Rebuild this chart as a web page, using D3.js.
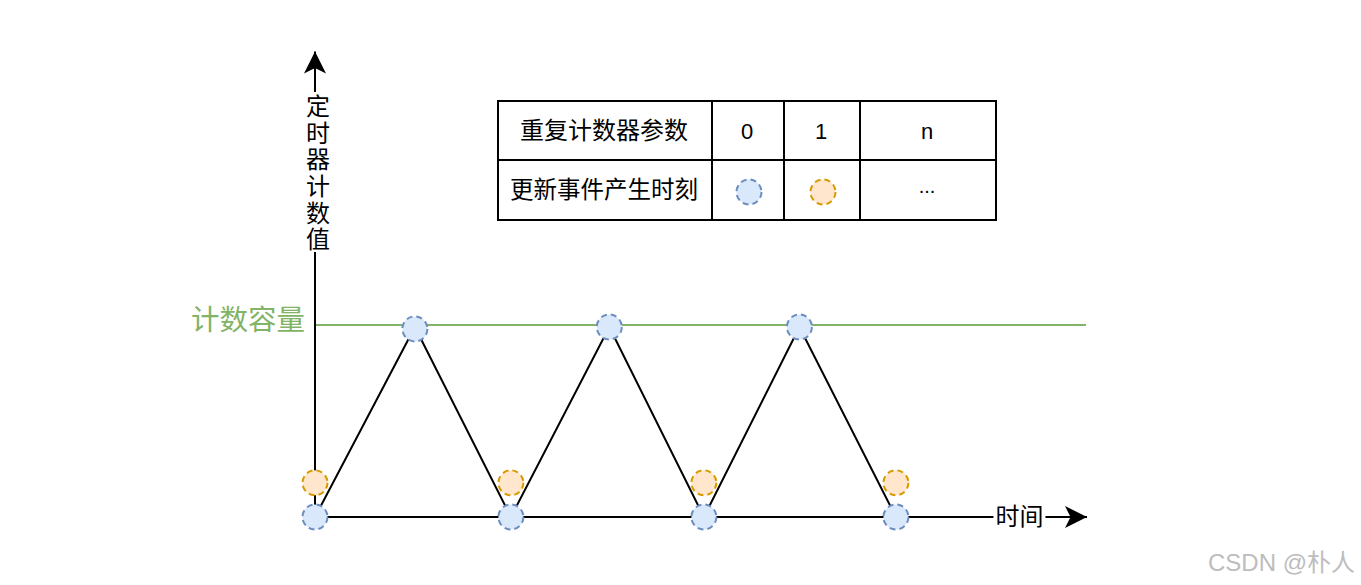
<!DOCTYPE html>
<html><head><meta charset="utf-8">
<script src="https://cdn.jsdelivr.net/npm/d3@7"></script>
<style>
html,body{margin:0;padding:0;background:#fff;}
svg{display:block;font-family:"Noto Sans CJK SC","Noto Sans",sans-serif;}
</style></head>
<body><svg id="c" width="1361" height="585"></svg>
<script>
// ---- data ----
const counterTimes = [0, 1.035, 2.03, 3.05, 4.03, 5.02, 6.02];
const counterValues = [0, 100, 0, 100, 0, 100, 0];
const blueTimes = [0, 1.035, 2.03, 3.05, 4.03, 5.02, 6.02];
const blueValues = [0, 99, 0, 100, 0, 100, 0];
const orangeTimes = [0, 2.03, 4.03, 6.02];
const orangeValues = [18, 18, 18, 18];
const capacity = 101;
const yLabel = "定时器计数值";
const xLabel = "时间";
const capacityLabel = "计数容量";
const tableHeader = ["重复计数器参数", "0", "1", "n"];
const tableRow2 = ["更新事件产生时刻", "blue", "orange", "..."];
const watermark = "CSDN @朴人";

const svg = d3.select("#c");
const x = d3.scaleLinear().domain([0, 8]).range([315, 1087]);
const y = d3.scaleLinear().domain([0, 100]).range([517, 327]);
const yTop = 245;

const blueFill = "#dae8fc", blueStroke = "#6c8ebf";
const orFill = "#ffe6cc", orStroke = "#d79b00";
const green = "#82b366";

// arrow marker
const defs = svg.append("defs");
defs.append("marker").attr("id","arr").attr("viewBox","0 0 10 10")
  .attr("refX",10).attr("refY",5).attr("markerWidth",22).attr("markerHeight",22)
  .attr("markerUnits","userSpaceOnUse").attr("orient","auto")
  .append("path").attr("d","M0,0 L10,5 L0,10 L2.5,5 Z").attr("fill","#000");

// capacity line
svg.append("line").attr("x1",x(0)).attr("x2",x(8)-1).attr("y1",y(capacity)).attr("y2",y(capacity))
  .attr("stroke",green).attr("stroke-width",2);
svg.append("text").attr("x",x(0)-10).attr("y",y(capacity)+5).attr("text-anchor","end")
  .attr("font-size",28.5).attr("fill",green).text(capacityLabel);

// axes
svg.append("line").attr("x1",x(0)).attr("y1",y(0)).attr("x2",x(8)).attr("y2",y(0))
  .attr("stroke","#000").attr("stroke-width",2).attr("marker-end","url(#arr)");
svg.append("line").attr("x1",x(0)).attr("y1",y(0)).attr("x2",x(0)).attr("y2",y(yTop))
  .attr("stroke","#000").attr("stroke-width",2).attr("marker-end","url(#arr)");

// x label
const xl = svg.append("g");
xl.append("rect").attr("x",x(7.3)-26).attr("y",y(0)-13).attr("width",52).attr("height",26).attr("fill","#fff");
xl.append("text").attr("x",x(7.3)).attr("y",y(0)+8).attr("text-anchor","middle")
  .attr("font-size",24).attr("fill","#000").text(xLabel);

// y label vertical (single text, vertical writing mode)
const yl = svg.append("g");
yl.append("rect").attr("x",x(0)-13).attr("y",92).attr("width",28).attr("height",160).attr("fill","#fff");
yl.append("text").attr("x",x(0)+3).attr("y",94)
  .style("writing-mode","vertical-rl").style("text-orientation","upright")
  .attr("font-size",24).attr("letter-spacing",2.6).attr("fill","#000").text(yLabel);

// counter line
const line = d3.line().x(d=>x(d[0])).y(d=>y(d[1]));
svg.append("path").datum(counterTimes.map((t,i)=>[t,counterValues[i]]))
  .attr("d",line).attr("fill","none").attr("stroke","#000").attr("stroke-width",2);

// markers
function marker(g, cx, cy, fill, stroke){
  g.append("circle").attr("cx",cx).attr("cy",cy).attr("r",12.5)
    .attr("fill",fill).attr("stroke",stroke).attr("stroke-width",2)
    .attr("stroke-dasharray","6,4");
}
const mk = svg.append("g");
orangeTimes.forEach((t,i)=>marker(mk,x(t),y(orangeValues[i]),orFill,orStroke));
blueTimes.forEach((t,i)=>marker(mk,x(t),y(blueValues[i]),blueFill,blueStroke));

// table
const colX = [498, 712, 784, 860, 996];
const rowY = [101, 160, 220];
const tb = svg.append("g");
tb.append("rect").attr("x",colX[0]).attr("y",rowY[0]).attr("width",colX[4]-colX[0]).attr("height",rowY[2]-rowY[0])
  .attr("fill","#fff").attr("stroke","#000").attr("stroke-width",2);
tb.append("line").attr("x1",colX[0]).attr("x2",colX[4]).attr("y1",rowY[1]).attr("y2",rowY[1]).attr("stroke","#000").attr("stroke-width",2);
colX.slice(1,4).forEach(cx=>tb.append("line").attr("x1",cx).attr("x2",cx).attr("y1",rowY[0]).attr("y2",rowY[2]).attr("stroke","#000").attr("stroke-width",2));
const mid = i => (colX[i]+colX[i+1])/2;
tableHeader.forEach((s,i)=>{
  tb.append("text").attr("x",mid(i)-1).attr("y",(rowY[0]+rowY[1])/2+8).attr("text-anchor","middle")
    .attr("font-size",i===0?24:22).attr("font-family", i===0?null:"Liberation Sans, Arial, sans-serif").text(s);
});
tableRow2.forEach((s,i)=>{
  const cy=(rowY[1]+rowY[2])/2+2;
  if(s==="blue") marker(tb,mid(i)+1,cy,blueFill,blueStroke);
  else if(s==="orange") marker(tb,mid(i)+1,cy,orFill,orStroke);
  else tb.append("text").attr("x",mid(i)-1).attr("y",cy+(i===0?6:1)).attr("text-anchor","middle")
    .attr("font-size",i===0?23.5:20).attr("font-family", i===0?null:"Liberation Sans, Arial, sans-serif").text(s);
});

// watermark
svg.append("text").attr("x",1355).attr("y",571).attr("text-anchor","end")
  .attr("font-size",24).attr("font-family","Liberation Sans, Arial, 'Noto Sans CJK SC', sans-serif")
  .attr("fill","#bdbdbd").text(watermark);
</script></body></html>
